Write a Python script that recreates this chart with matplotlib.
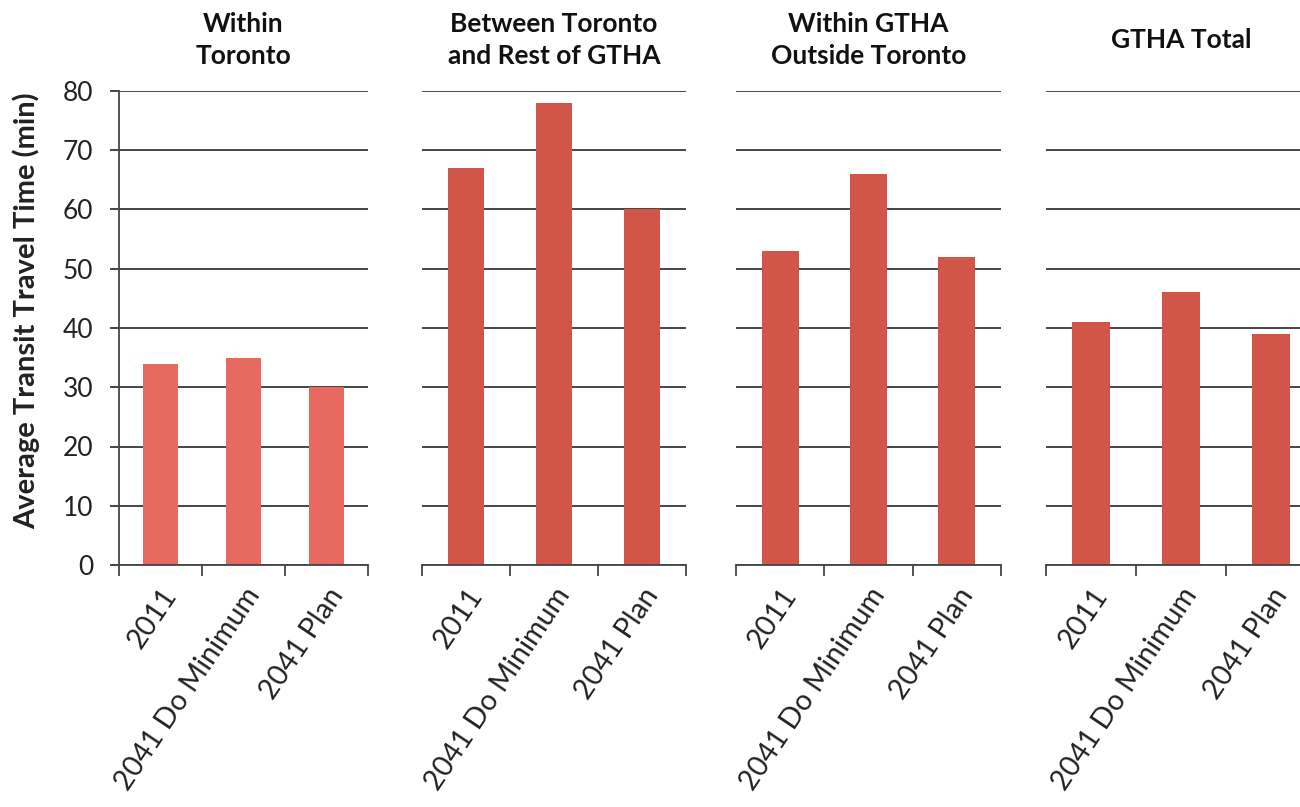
import matplotlib
matplotlib.use("Agg")
import matplotlib.pyplot as plt
from matplotlib.ticker import FixedLocator

plt.rcParams['font.family'] = ['Lato', 'DejaVu Sans']

# Data
panel_titles = ["Within\nToronto", "Between Toronto\nand Rest of GTHA",
                "Within GTHA\nOutside Toronto", "GTHA Total"]
scenarios = ["2011", "2041 Do Minimum", "2041 Plan"]
within_toronto = [34, 35, 30]
between_toronto_rest = [67, 78, 60]
within_gtha_outside = [53, 66, 52]
gtha_total = [41, 46, 39]
series = [within_toronto, between_toronto_rest, within_gtha_outside, gtha_total]
y_ticks = [0, 10, 20, 30, 40, 50, 60, 70, 80]
y_label = "Average Transit Travel Time (min)"

bar_colors = ["#E8695F", "#D2554A", "#D2554A", "#D2554A"]
line_col = "#454545"

fig = plt.figure(figsize=(13, 8.07), dpi=100)
fig.patch.set_facecolor("white")

W, H = 1300, 807
top_px, bot_px = 91, 565
panels_px = [(119, 249), (422, 264), (736, 265), (1046, 270)]

for i, ((lx, wx), vals, title) in enumerate(zip(panels_px, series, panel_titles)):
    ax = fig.add_axes([lx / W, 1 - bot_px / H, wx / W, (bot_px - top_px) / H])
    x = range(len(scenarios))
    ax.bar(x, vals, width=0.42, color=bar_colors[i], zorder=3)
    ax.set_xlim(-0.5, 2.5)
    ax.set_ylim(0, 80)
    for s in ["top", "right"]:
        ax.spines[s].set_visible(False)
    ax.spines["bottom"].set_color(line_col)
    ax.spines["bottom"].set_linewidth(1.3)
    ax.spines["bottom"].set_zorder(4)
    ax.yaxis.set_major_locator(FixedLocator(y_ticks))
    ax.grid(axis="y", color=line_col, linewidth=1.4, zorder=1)
    ax.set_axisbelow(True)

    # category labels at centres, tick marks at category boundaries
    ax.set_xticks(list(x))
    ax.set_xticklabels(scenarios, rotation=56, ha="right", va="top",
                       rotation_mode="anchor", fontsize=20.5, color="#222222")
    ax.tick_params(axis="x", which="major", length=0, pad=13)
    ax.set_xticks([-0.5, 0.5, 1.5, 2.5], minor=True)
    ax.tick_params(axis="x", which="minor", length=8, width=1.3, color=line_col)

    if i == 0:
        ax.spines["left"].set_color(line_col)
        ax.spines["left"].set_linewidth(1.3)
        ax.tick_params(axis="y", length=6.5, width=1.4, color=line_col,
                       labelsize=19, labelcolor="#222222", pad=12)
        ax.set_ylabel(y_label, fontsize=21, fontweight="bold", color="#222222")
        ax.yaxis.set_label_coords((26 - lx) / wx, (bot_px - 311) / (bot_px - top_px))
        ax.yaxis.label.set_va("center")
    else:
        ax.spines["left"].set_visible(False)
        ax.tick_params(axis="y", length=0, labelleft=False)

    fig.text((lx + wx / 2) / W, 1 - 40 / H, title, ha="center", va="center",
             fontsize=19, fontweight="bold", color="#111111", linespacing=1.45)

fig.savefig("out.png", dpi=100, facecolor="white")
